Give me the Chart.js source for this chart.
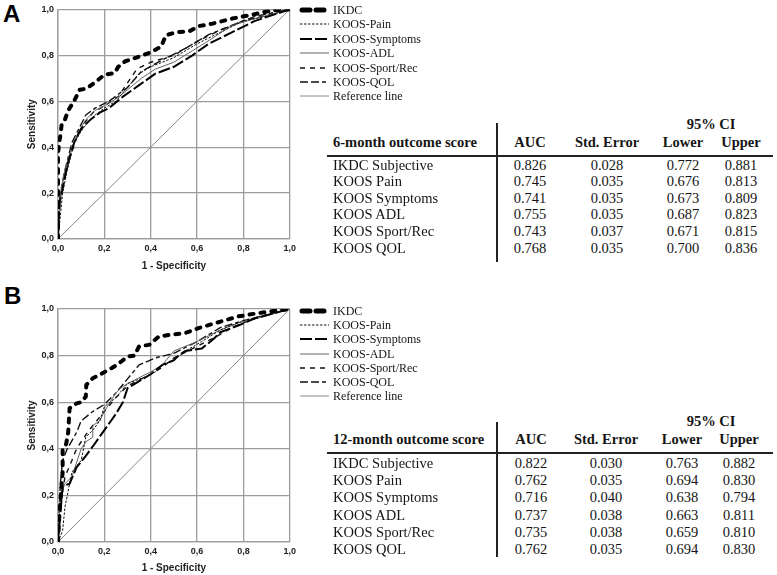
<!DOCTYPE html>
<html><head><meta charset="utf-8">
<script src="https://cdn.jsdelivr.net/npm/chart.js@4.4.1/dist/chart.umd.min.js"></script>
<style>
body{margin:0;background:#fff;width:777px;height:575px;position:relative;overflow:hidden;font-family:"Liberation Serif","Times New Roman",serif;color:#151515}
canvas{position:absolute;left:0}
.abs{position:absolute;white-space:nowrap;line-height:16px;height:16px}
.panel{position:absolute;font-family:"Liberation Sans",Arial,sans-serif;font-weight:bold;font-size:24px;line-height:24px;color:#000}
.hl{position:absolute;background:#222}
</style>
</head><body>
<div class="panel" style="left:3px;top:2px">A</div>
<div class="panel" style="left:4px;top:284px">B</div>
<canvas id="cA" width="300" height="275" style="top:0"></canvas>
<canvas id="cB" width="300" height="285" style="top:290px"></canvas>
<script>
// ---------- data: 6-month (panel A) ----------
const ikdc6_fpr = [0,0,0.005,0.01,0.016,0.03,0.044,0.069,0.094,0.123,0.166,0.2,0.245,0.26,0.288,0.338,0.4,0.445,0.466,0.51,0.567,0.61,0.667,0.752,0.838,0.924,1];
const ikdc6_tpr = [0,0.37,0.42,0.45,0.5,0.52,0.56,0.6,0.65,0.655,0.687,0.715,0.723,0.75,0.773,0.79,0.813,0.838,0.888,0.9,0.905,0.928,0.938,0.96,0.977,0.996,1];
const pain6_fpr = [0,0.01,0.02,0.04,0.07,0.1,0.13,0.16,0.2,0.25,0.3,0.35,0.4,0.5,0.6,0.7,0.8,0.9,1];
const pain6_tpr = [0,0.1,0.2,0.3,0.42,0.47,0.51,0.54,0.57,0.6,0.66,0.72,0.75,0.79,0.85,0.9,0.95,0.97,1];
const sym6_fpr = [0,0.005,0.02,0.04,0.07,0.1,0.14,0.18,0.22,0.28,0.35,0.42,0.5,0.58,0.65,0.75,0.85,1];
const sym6_tpr = [0,0.15,0.22,0.32,0.42,0.48,0.52,0.55,0.57,0.62,0.67,0.72,0.75,0.8,0.85,0.9,0.95,1];
const adl6_fpr = [0,0.01,0.03,0.06,0.09,0.12,0.16,0.2,0.25,0.3,0.36,0.42,0.5,0.58,0.66,0.75,0.85,1];
const adl6_tpr = [0,0.2,0.3,0.4,0.47,0.52,0.56,0.58,0.61,0.65,0.7,0.74,0.77,0.82,0.87,0.93,0.96,1];
const sport6_fpr = [0,0.01,0.03,0.05,0.08,0.11,0.15,0.2,0.26,0.3,0.34,0.4,0.5,0.6,0.7,0.8,1];
const sport6_tpr = [0,0.18,0.27,0.35,0.44,0.5,0.55,0.58,0.62,0.68,0.74,0.77,0.8,0.86,0.91,0.95,1];
const qol6_fpr = [0,0.01,0.03,0.06,0.09,0.12,0.16,0.22,0.3,0.36,0.45,0.55,0.65,0.75,0.85,1];
const qol6_tpr = [0,0.2,0.3,0.42,0.48,0.54,0.57,0.6,0.66,0.73,0.78,0.83,0.89,0.93,0.97,1];
// ---------- data: 12-month (panel B) ----------
const ikdc12_fpr = [0,0.005,0.013,0.02,0.02,0.035,0.044,0.05,0.08,0.1,0.12,0.122,0.15,0.193,0.243,0.28,0.3,0.33,0.35,0.393,0.435,0.49,0.55,0.606,0.705,0.777,0.85,0.92,1];
const ikdc12_tpr = [0,0.1,0.215,0.3,0.4,0.42,0.47,0.574,0.595,0.6,0.624,0.674,0.703,0.725,0.753,0.78,0.796,0.8,0.84,0.846,0.882,0.89,0.897,0.918,0.947,0.968,0.98,0.99,1];
const pain12_fpr = [0,0.02,0.03,0.05,0.06,0.1,0.12,0.15,0.18,0.2,0.25,0.3,0.38,0.42,0.45,0.5,0.55,0.62,0.7,0.8,1];
const pain12_tpr = [0,0.05,0.15,0.25,0.3,0.35,0.45,0.48,0.52,0.58,0.62,0.68,0.71,0.73,0.76,0.78,0.82,0.86,0.91,0.95,1];
const sym12_fpr = [0,0.02,0.05,0.08,0.12,0.15,0.2,0.25,0.28,0.3,0.4,0.45,0.5,0.52,0.55,0.62,0.67,0.7,0.78,0.85,1];
const sym12_tpr = [0,0.24,0.25,0.32,0.37,0.41,0.48,0.55,0.6,0.66,0.72,0.76,0.78,0.8,0.82,0.83,0.87,0.9,0.93,0.96,1];
const adl12_fpr = [0,0.01,0.03,0.06,0.1,0.12,0.15,0.15,0.18,0.2,0.25,0.27,0.3,0.4,0.45,0.5,0.55,0.6,0.7,0.78,0.9,1];
const adl12_tpr = [0,0.2,0.25,0.28,0.4,0.43,0.45,0.5,0.52,0.56,0.64,0.66,0.68,0.73,0.76,0.82,0.84,0.86,0.91,0.94,0.97,1];
const sport12_fpr = [0,0.01,0.03,0.06,0.08,0.12,0.15,0.2,0.25,0.3,0.4,0.45,0.5,0.6,0.68,0.75,0.85,1];
const sport12_tpr = [0,0.15,0.28,0.35,0.4,0.46,0.5,0.56,0.62,0.67,0.72,0.75,0.79,0.84,0.88,0.92,0.96,1];
const qol12_fpr = [0,0.01,0.02,0.04,0.08,0.1,0.15,0.2,0.25,0.3,0.35,0.42,0.5,0.6,0.7,0.8,1];
const qol12_tpr = [0,0.25,0.35,0.4,0.47,0.52,0.56,0.59,0.64,0.7,0.76,0.79,0.81,0.86,0.92,0.95,1];
const ref_fpr = [0,1];
const ref_tpr = [0,1];
// ---------- tick / legend / table text ----------
const tickValues = [0,0.2,0.4,0.6,0.8,1.0];
const legendLabels = ["IKDC","KOOS-Pain","KOOS-Symptoms","KOOS-ADL","KOOS-Sport/Rec","KOOS-QOL","Reference line"];
const tableRowLabels = ["IKDC Subjective","KOOS Pain","KOOS Symptoms","KOOS ADL","KOOS Sport/Rec","KOOS QOL"];
const auc6 = ["0.826","0.745","0.741","0.755","0.743","0.768"];
const se6 = ["0.028","0.035","0.035","0.035","0.037","0.035"];
const lower6 = ["0.772","0.676","0.673","0.687","0.671","0.700"];
const upper6 = ["0.881","0.813","0.809","0.823","0.815","0.836"];
const auc12 = ["0.822","0.762","0.716","0.737","0.735","0.762"];
const se12 = ["0.030","0.035","0.040","0.038","0.038","0.035"];
const lower12 = ["0.763","0.694","0.638","0.663","0.659","0.694"];
const upper12 = ["0.882","0.830","0.794","0.811","0.810","0.830"];

// ---------- styles ----------
const styles = [
  {color:'#000', width:4, dash:[4,7], cap:'round'},
  {color:'#111', width:1, dash:[2.5,1.5], cap:'butt'},
  {color:'#000', width:2, dash:[12,3], cap:'butt'},
  {color:'#666', width:1, dash:[], cap:'butt'},
  {color:'#111', width:1.4, dash:[5,5], cap:'butt'},
  {color:'#111', width:1.4, dash:[8,3,8,3,4,3], cap:'butt'},
  {color:'#888', width:1, dash:[], cap:'butt'}
];

function pts(xs, ys){ return xs.map((x,i)=>({x:x, y:ys[i]})); }
function fmt(v){ return v.toFixed(1).replace('.', ','); }

function makeChart(id, series, pad, yW, xH){
  const datasets = series.map((s,i)=>({
    label: legendLabels[i],
    data: pts(s[0], s[1]),
    showLine: true,
    borderColor: styles[i].color,
    borderWidth: styles[i].width,
    borderDash: styles[i].dash,
    borderCapStyle: styles[i].cap,
    borderJoinStyle: 'round',
    pointRadius: 0,
    fill: false,
    tension: 0,
    order: i === 0 ? 0 : (i === 6 ? 10 : 5)
  }));
  const tickFont = {family:'"Liberation Sans", Arial, sans-serif', size:9, weight:'bold'};
  const titleFont = {family:'"Liberation Sans", Arial, sans-serif', size:10, weight:'bold'};
  const grid = {color:'#9c9c9c', lineWidth:1.3, drawTicks:false};
  return new Chart(document.getElementById(id), {
    type:'scatter',
    data:{datasets},
    options:{
      responsive:false, animation:false,
      layout:{padding:pad},
      plugins:{legend:{display:false}, tooltip:{enabled:false}},
      scales:{
        x:{type:'linear', min:0, max:1,
           afterBuildTicks(s){ s.ticks = tickValues.map(v=>({value:v})); },
           afterFit(s){ s.height = xH; },
           ticks:{callback:v=>fmt(v), font:tickFont, color:'#222', padding:4, maxRotation:0},
           grid, border:{color:'#9c9c9c', width:1.3},
           title:{display:true, text:'1 - Specificity', font:titleFont, color:'#222', padding:0}},
        y:{type:'linear', min:0, max:1,
           afterBuildTicks(s){ s.ticks = tickValues.map(v=>({value:v})); },
           afterFit(s){ s.width = yW; },
           ticks:{callback:v=>fmt(v), font:tickFont, color:'#222', padding:4},
           grid, border:{color:'#9c9c9c', width:1.3},
           title:{display:true, text:'Sensitivity', font:titleFont, color:'#222', padding:{top:6,bottom:0}}}
      }
    }
  });
}

makeChart('cA', [
  [ikdc6_fpr, ikdc6_tpr],[pain6_fpr, pain6_tpr],[sym6_fpr, sym6_tpr],[adl6_fpr, adl6_tpr],
  [sport6_fpr, sport6_tpr],[qol6_fpr, qol6_tpr],[ref_fpr, ref_tpr]
], {left:20,right:9,top:7,bottom:3}, 38, 33);
makeChart('cB', [
  [ikdc12_fpr, ikdc12_tpr],[pain12_fpr, pain12_tpr],[sym12_fpr, sym12_tpr],[adl12_fpr, adl12_tpr],
  [sport12_fpr, sport12_tpr],[qol12_fpr, qol12_tpr],[ref_fpr, ref_tpr]
], {left:20,right:8,top:19,bottom:1}, 38, 32);

// ---------- HTML helpers ----------
function text(t, x, y, align, opts){
  const d = document.createElement('div');
  d.className = 'abs';
  d.textContent = t;
  d.style.top = (y - 8) + 'px';
  d.style.fontSize = (opts && opts.size || 14.5) + 'px';
  if (opts && opts.bold) d.style.fontWeight = 'bold';
  if (align === 'center'){ d.style.left = x + 'px'; d.style.transform = 'translateX(-50%)'; }
  else d.style.left = x + 'px';
  document.body.appendChild(d);
  return d;
}
function rule(x, y, w, h){
  const d = document.createElement('div');
  d.className = 'hl';
  d.style.left = x+'px'; d.style.top = y+'px'; d.style.width = w+'px'; d.style.height = h+'px';
  document.body.appendChild(d);
}
function legend(x0, y0, step){
  legendLabels.forEach((lab,i)=>{
    const y = y0 + i*step;
    const s = styles[i];
    const ns = 'http://www.w3.org/2000/svg';
    const svg = document.createElementNS(ns,'svg');
    svg.setAttribute('width','32'); svg.setAttribute('height','10');
    svg.style.position='absolute'; svg.style.left=(x0-1)+'px'; svg.style.top=(y-5)+'px';
    const l = document.createElementNS(ns,'line');
    const inset = s.cap === 'round' ? s.width/2 + 1 : 1;
    l.setAttribute('x1', inset); l.setAttribute('x2', 31 - inset);
    l.setAttribute('y1','5'); l.setAttribute('y2','5');
    l.setAttribute('stroke', s.color);
    l.setAttribute('stroke-width', i===0 ? 5 : s.width);
    l.setAttribute('stroke-linecap', s.cap);
    if (i===0) l.setAttribute('stroke-dasharray','8,6');
    else if (s.dash.length) l.setAttribute('stroke-dasharray', s.dash.join(','));
    svg.appendChild(l);
    document.body.appendChild(svg);
    text(lab, x0+33, y, 'left', {size:12});
  });
}
legend(300, 10, 14.4);
legend(300, 311, 14.2);

function table(title, yCI, yHead, yLine, yVTop, yVBot, rowYs, cols, colX, data){
  text('95% CI', 711, yCI, 'center', {bold:true});
  text(title, 333, yHead, 'left', {bold:true});
  cols.forEach((c,i)=> text(c, colX[i], yHead, 'center', {bold:true}));
  rule(327, yLine-1, 446, 2);
  rule(496, yVTop, 1.5, yVBot - yVTop);
  tableRowLabels.forEach((lab,r)=>{
    text(lab, 333, rowYs[r], 'left', {});
    data.forEach((arr,c)=> text(arr[r], colX[c], rowYs[r], 'center', {}));
  });
}
const colHeads = ["AUC","Std. Error","Lower","Upper"];
table('6-month outcome score', 124, 142, 156, 123, 262,
  [165,181,198,214,231,248], colHeads, [530,607,683,741], [auc6,se6,lower6,upper6]);
table('12-month outcome score', 421, 439, 453, 422, 557,
  [463,480,497,515,532,549], colHeads, [531,606,682,739], [auc12,se12,lower12,upper12]);
</script>
</body></html>
